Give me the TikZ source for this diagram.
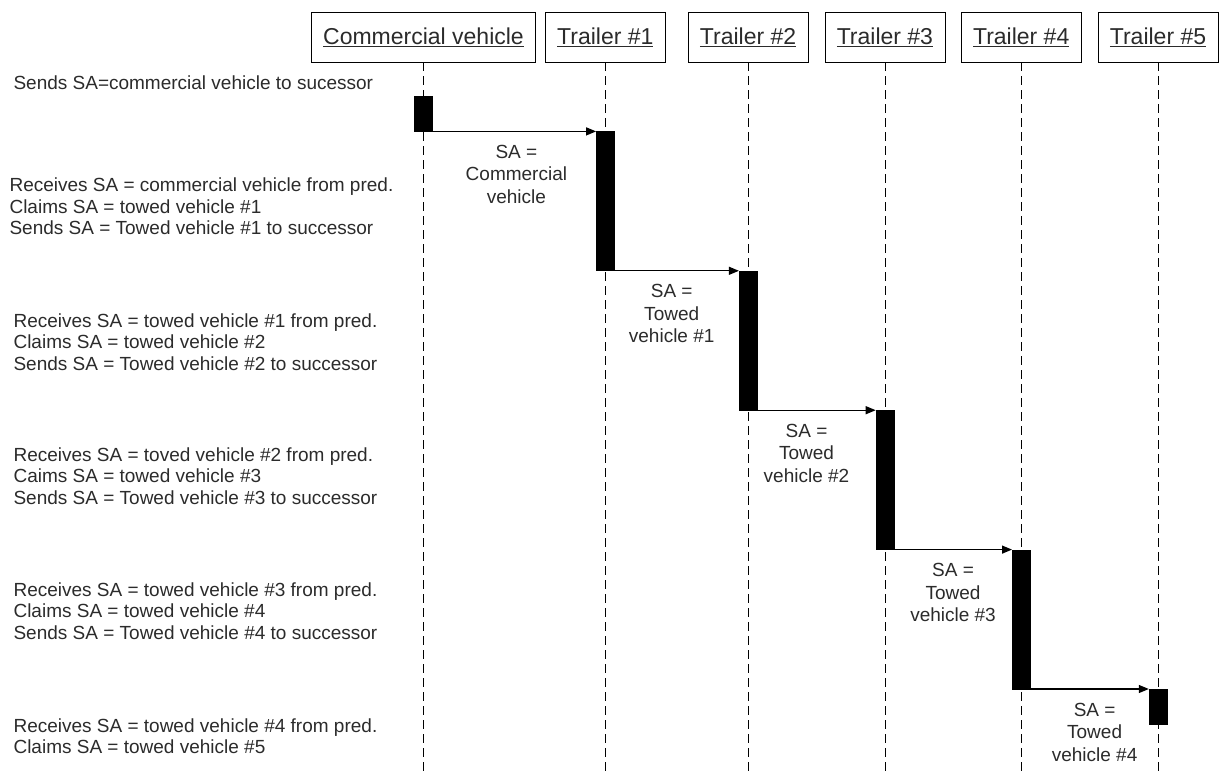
\documentclass[tikz,border=0pt]{standalone}
\usepackage{fontspec}
\setmainfont{Liberation Sans}
\usetikzlibrary{arrows.meta, positioning}
\definecolor{SeqText}{HTML}{2B2B2B}

\begin{document}
\begin{tikzpicture}[x=1pt, y=-1pt,
    hdr/.style={
      rectangle, draw=black, line width=0.8pt, minimum width=120pt, minimum height=50pt,
      inner sep=0pt, font=\fontsize{23}{26}\selectfont, text=SeqText
    },
    life/.style={dash pattern=on 9pt off 5pt, line width=0.8pt},
    act/.style={rectangle, fill=black, draw=black, minimum width=18pt, inner sep=0pt},
    msg/.style={-{Triangle[length=10pt, width=8pt]}, line width=1.2pt},
    lbl/.style={align=center, font=\fontsize{19}{22.5}\selectfont, text=SeqText},
    note/.style={anchor=west, align=left, font=\fontsize{19}{21.5}\selectfont, text=SeqText}
  ]
    \useasboundingbox (0,0) rectangle (1220,776);
    \coordinate (bot) at (0,776);

    % lifeline heads
    \node[hdr, minimum width=224pt] (cv) at (423.5,37) {\underline{Commercial vehicle}};
    \node[hdr, right=9pt of cv] (t1) {\underline{Trailer \#1}};
    \node[hdr, right=22pt of t1] (t2) {\underline{Trailer \#2}};
    \node[hdr, right=16pt of t2] (t3) {\underline{Trailer \#3}};
    \node[hdr, right=15.5pt of t3] (t4) {\underline{Trailer \#4}};
    \node[hdr, right=16pt of t4] (t5) {\underline{Trailer \#5}};

    \foreach \h in {cv,t1,t2,t3,t4,t5}
      \draw[life] (\h.south) -- (\h.south |- bot);

    % activations
    \node[act, anchor=north, minimum height=35pt] (a0) at (cv.south |- 0,96) {};
    \node[act, anchor=north, minimum height=139pt] (a1) at (t1.south |- a0.south) {};
    \node[act, anchor=north, minimum height=139pt] (a2) at (t2.south |- a1.south) {};
    \node[act, anchor=north, minimum height=139pt] (a3) at (t3.south |- a2.south) {};
    \node[act, anchor=north, minimum height=139pt] (a4) at (t4.south |- a3.south) {};
    \node[act, anchor=north, minimum height=35pt] (a5) at (t5.south |- a4.south) {};

    % messages
    \draw[msg] (a0.south east) -- node[lbl, yshift=-43pt, xshift=2pt]{SA =\\Commercial\\vehicle} (a1.north west);
    \draw[msg] (a1.south east) -- node[lbl, yshift=-43pt, xshift=-5pt]{SA =\\Towed\\vehicle \#1} (a2.north west);
    \draw[msg] (a2.south east) -- node[lbl, yshift=-43pt, xshift=-10pt]{SA =\\Towed\\vehicle \#2} (a3.north west);
    \draw[msg] (a3.south east) -- node[lbl, yshift=-43pt]{SA =\\Towed\\vehicle \#3} (a4.north west);
    \draw[msg] (a4.south east) -- node[lbl, yshift=-43pt, xshift=5pt]{SA =\\Towed\\vehicle \#4} (a5.north west);

    % notes on the left
    \node[note] (n0) at (10,83) {Sends SA=commercial vehicle to sucessor};
    \node[note] (n1) at (6,206.5) {Receives SA = commercial vehicle from pred.\\Claims SA = towed vehicle \#1\\Sends SA = Towed vehicle \#1 to successor};
    \node[note] (n2) at (10,342) {Receives SA = towed vehicle \#1 from pred.\\Claims SA = towed vehicle \#2\\Sends SA = Towed vehicle \#2 to successor};
    \node[note] (n3) at (10,476) {Receives SA = toved vehicle \#2 from pred.\\Caims SA = towed vehicle \#3\\Sends SA = Towed vehicle \#3 to successor};
    \node[note] (n4) at (10,611) {Receives SA = towed vehicle \#3 from pred.\\Claims SA = towed vehicle \#4\\Sends SA = Towed vehicle \#4 to successor};
    \node[note] (n5) at (10,736) {Receives SA = towed vehicle \#4 from pred.\\Claims SA = towed vehicle \#5};
\end{tikzpicture}
\end{document}
